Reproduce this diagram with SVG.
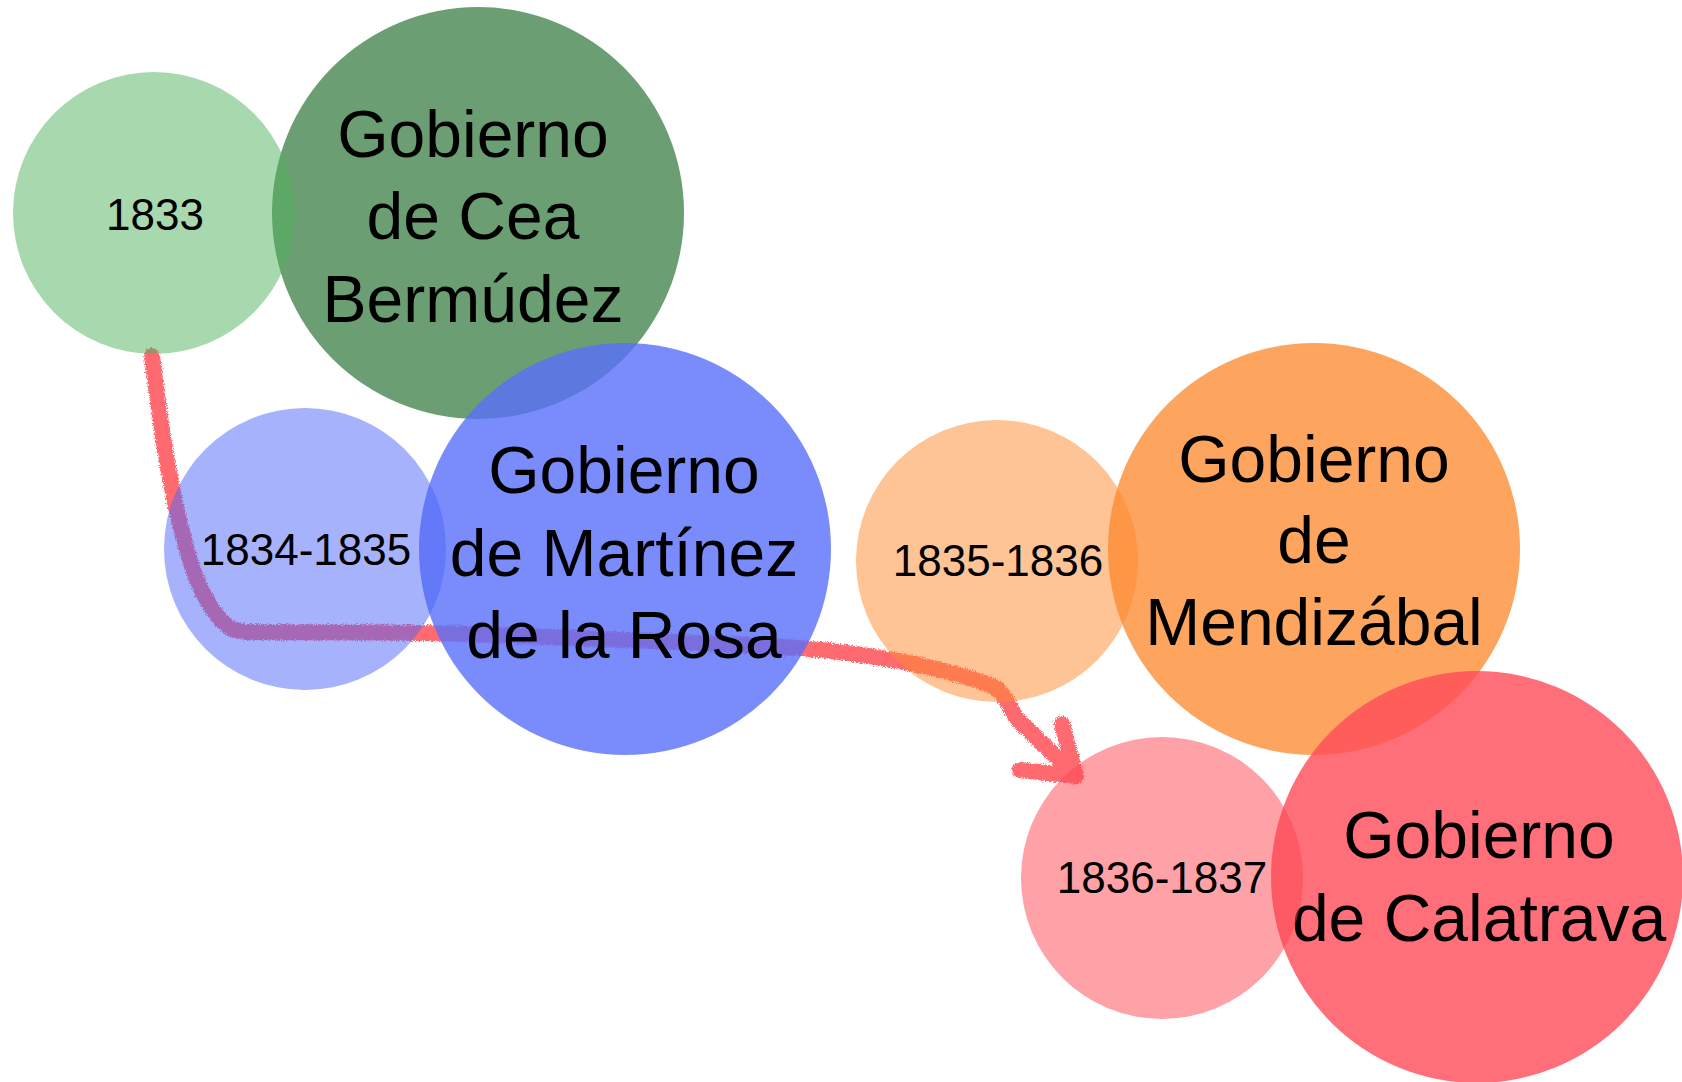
<svg xmlns="http://www.w3.org/2000/svg" width="1682" height="1082" viewBox="0 0 1682 1082">
  <defs>
    <filter id="rough" x="-5%" y="-5%" width="110%" height="110%">
      <feTurbulence type="fractalNoise" baseFrequency="0.9" numOctaves="2" seed="3" result="n"/>
      <feDisplacementMap in="SourceGraphic" in2="n" scale="6" xChannelSelector="R" yChannelSelector="G"/>
    </filter>
  </defs>
  <style>
    .big { fill-opacity: 0.8; }
    .small { fill-opacity: 0.5; }
    .t { font-family: "Liberation Sans", Arial, sans-serif; fill: #000; text-anchor: middle; }
    .tl { font-size: 66px; }
    .ts { font-size: 44px; }
    .conn { fill: none; stroke: rgb(255,107,112); stroke-width: 16; stroke-linecap: round; stroke-linejoin: round; }
  </style>
  <rect width="1682" height="1082" fill="#ffffff"/>

  <g id="connectors" filter="url(#rough)">
    <path class="conn" d="M152,356 C160,420 168,480 184,540 C195,582 210,615 232,629 L246,632 C330,633 420,631 520,636 C620,640 720,643 800,648 C870,654 930,664 988,684 C1004,690 1008,704 1016,718 L1074,774"/>
    <path class="conn" d="M1062,724 L1076,776 L1020,770"/>
  </g>

  <g id="node-cea">
    <circle class="big" cx="478" cy="213" r="206" fill="rgb(70,134,79)"/>
    <text class="t tl" x="473" y="157">Gobierno</text>
    <text class="t tl" x="473" y="239">de Cea</text>
    <text class="t tl" x="473" y="322">Bermúdez</text>
  </g>
  <g id="node-1833">
    <circle class="small" cx="154" cy="213" r="141" fill="rgb(81,177,91)"/>
    <text class="t ts" x="155" y="230">1833</text>
  </g>

  <g id="node-martinez">
    <circle class="big" cx="625" cy="549" r="206" fill="rgb(89,111,250)"/>
    <text class="t tl" x="624" y="493">Gobierno</text>
    <text class="t tl" x="624" y="576">de Martínez</text>
    <text class="t tl" x="624" y="658">de la Rosa</text>
  </g>
  <g id="node-1834">
    <circle class="small" cx="305" cy="549" r="141" fill="rgb(77,101,249)"/>
    <text class="t ts" x="306" y="565">1834-1835</text>
  </g>

  <g id="node-mendizabal">
    <circle class="big" cx="1314" cy="549" r="206" fill="rgb(253,143,54)"/>
    <text class="t tl" x="1314" y="482">Gobierno</text>
    <text class="t tl" x="1314" y="563">de</text>
    <text class="t tl" x="1314" y="645">Mendizábal</text>
  </g>
  <g id="node-1835">
    <circle class="small" cx="997" cy="561" r="141" fill="rgb(253,137,45)"/>
    <text class="t ts" x="998" y="576">1835-1836</text>
  </g>

  <g id="node-calatrava">
    <circle class="big" cx="1477" cy="877" r="206" fill="rgb(254,75,88)"/>
    <text class="t tl" x="1479" y="858">Gobierno</text>
    <text class="t tl" x="1479" y="941">de Calatrava</text>
  </g>
  <g id="node-1836">
    <circle class="small" cx="1162" cy="878" r="141" fill="rgb(253,69,81)"/>
    <text class="t ts" x="1162" y="893">1836-1837</text>
  </g>
</svg>
